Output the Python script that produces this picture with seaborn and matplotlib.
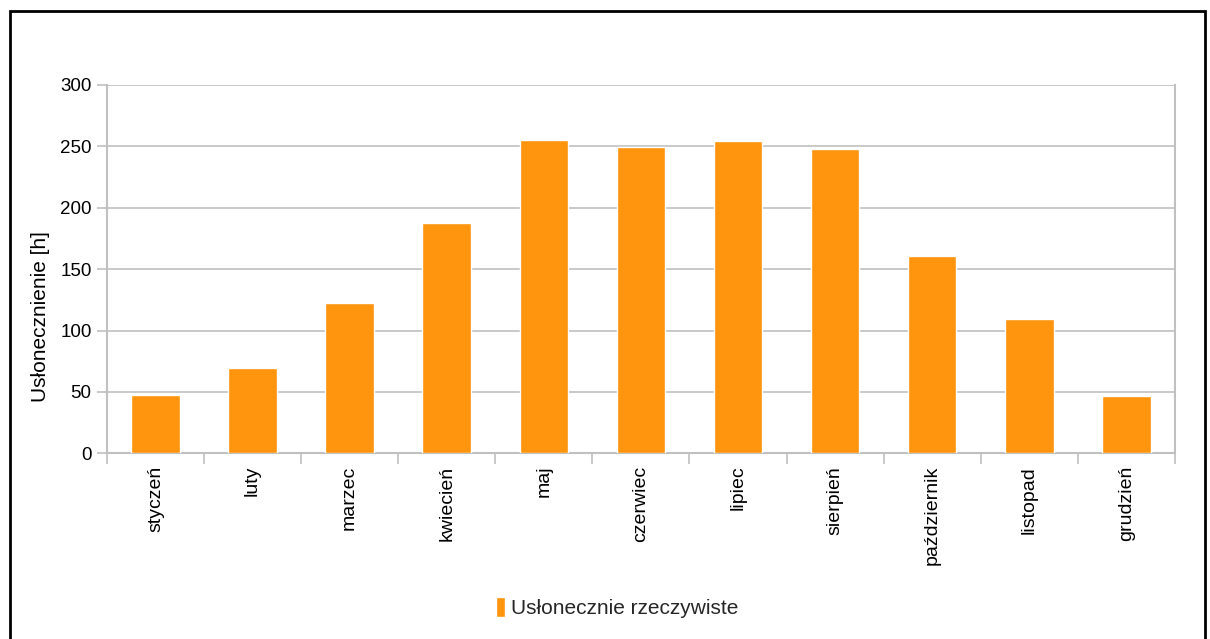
import pandas as pd
import matplotlib.pyplot as plt
import matplotlib.patches as mpatches
import seaborn as sns

# data
months = ['styczeń', 'luty', 'marzec', 'kwiecień', 'maj', 'czerwiec',
          'lipiec', 'sierpień', 'październik', 'listopad', 'grudzień']
sun_hours = [47.3, 69.5, 122.6, 187.8, 255, 249.5, 254, 247.6, 160.6, 109.6, 47]
series_name = 'Usłonecznie rzeczywiste'
y_ticks = [0, 50, 100, 150, 200, 250, 300]

df = pd.DataFrame({'month': months, 'hours': sun_hours})

sns.set_theme(style='white')
plt.rcParams['font.family'] = ['Liberation Sans', 'DejaVu Sans']

fig = plt.figure(figsize=(12.1, 6.39), dpi=100)
ax = fig.add_axes([0.0884, 0.2906, 0.8826, 0.5764])

grid_col = '#c0c0c0'
sns.barplot(data=df, x='month', y='hours', color='#ff950e', width=0.5,
            saturation=1, label=series_name, ax=ax, zorder=3)

ax.set_ylim(0, 300)
ax.set_yticks(y_ticks)
ax.set_xlim(-0.5, len(months) - 0.5)
ax.yaxis.grid(True, color=grid_col, linewidth=1.2, zorder=0)
ax.set_axisbelow(True)

for side in ['left', 'bottom', 'right']:
    ax.spines[side].set_color(grid_col)
    ax.spines[side].set_linewidth(1.5)
ax.spines['top'].set_visible(False)

# tick marks at category boundaries, labels at centers
ax.set_xticks([i - 0.5 for i in range(len(months) + 1)], minor=True)
ax.tick_params(axis='x', which='minor', length=8, width=1.2, color=grid_col, direction='out', bottom=True)
ax.tick_params(axis='x', which='major', length=0, pad=9, labelsize=14, labelcolor='#000000')
ax.tick_params(axis='y', length=7, width=1.2, color=grid_col, direction='out', left=True,
               labelsize=13.5, labelcolor='#000000', pad=4)
plt.setp(ax.get_xticklabels(), rotation=90)

ax.set_xlabel('')
ax.set_ylabel('Usłonecznienie [h]', fontsize=15, color='#000000')
ax.yaxis.set_label_coords(-0.053, 0.371)

ax.legend(loc='center', bbox_to_anchor=(0.510, 0.05), bbox_transform=fig.transFigure,
          frameon=False, fontsize=15, handlelength=0.45, handleheight=1.1, handletextpad=0.3)

# black frame around the chart
fig.patches.append(mpatches.Rectangle((0.0083, -0.02), 0.9877, 1.0028, transform=fig.transFigure,
                                      fill=False, edgecolor='black', linewidth=2))

fig.savefig('out.png', dpi=100)
